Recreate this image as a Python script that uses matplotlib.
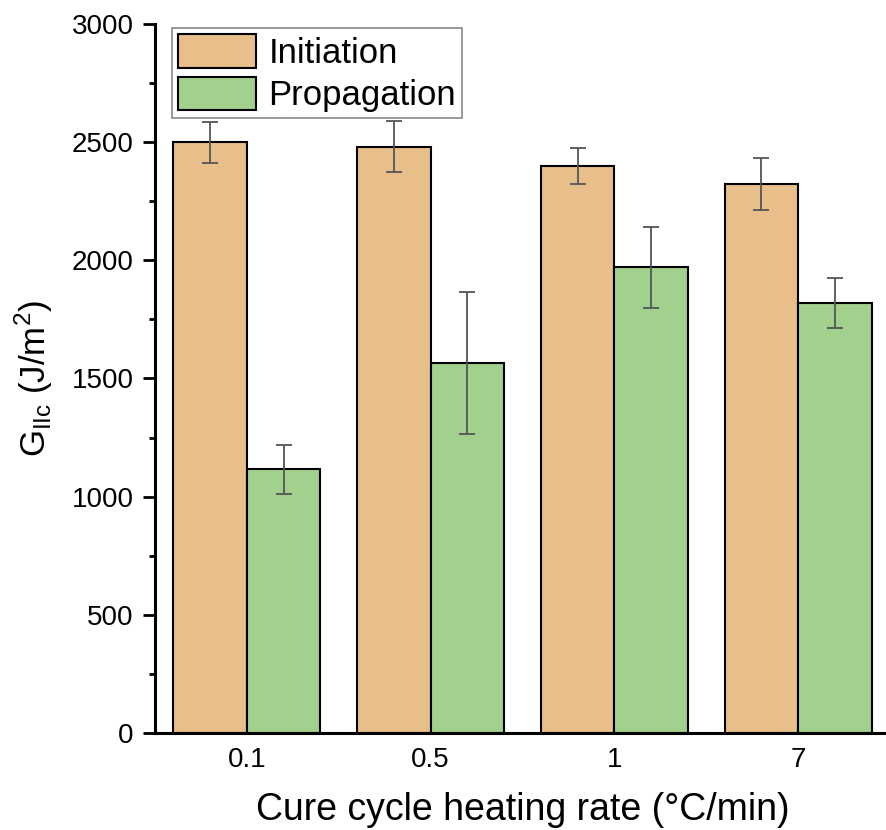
import numpy as np
import matplotlib
matplotlib.use("Agg")
import matplotlib.pyplot as plt
from matplotlib.ticker import MultipleLocator

plt.rcParams['font.family'] = ['Liberation Sans', 'DejaVu Sans']

# Datos
rates = ['0.1', '0.5', '1', '7']
initiation = [2500, 2480, 2400, 2325]
initiation_err = [87, 108, 75, 110]
propagation = [1115, 1566, 1970, 1820]
propagation_err = [103, 300, 170, 107]

c_ini = '#E8BE8A'
c_prop = '#A2D08D'

fig = plt.figure(figsize=(8.87, 8.30), dpi=100)
ax = fig.add_axes([0.1747, 0.1169, 0.8287, 0.8542])

x = np.arange(len(rates))
w = 0.4
err_kw = dict(ecolor='#555555', elinewidth=1.3, capsize=6, capthick=1.3)
ax.bar(x - w/2, initiation, w, color=c_ini, edgecolor='black', linewidth=1.5,
       yerr=initiation_err, error_kw=err_kw, label='Initiation', zorder=2)
ax.bar(x + w/2, propagation, w, color=c_prop, edgecolor='black', linewidth=1.5,
       yerr=propagation_err, error_kw=err_kw, label='Propagation', zorder=2)

ax.set_xlim(-0.5, 3.5)
ax.set_ylim(0, 3000)
ax.set_xticks(x)
ax.set_xticklabels(rates)
ax.yaxis.set_major_locator(MultipleLocator(500))
ax.yaxis.set_minor_locator(MultipleLocator(250))

for s in ['top', 'right']:
    ax.spines[s].set_visible(False)
for s in ['left', 'bottom']:
    ax.spines[s].set_linewidth(2.2)

ax.tick_params(axis='y', which='major', direction='out', length=8.5, width=2, labelsize=20, pad=7)
ax.tick_params(axis='y', which='minor', direction='out', length=4.5, width=2)
ax.tick_params(axis='x', length=0, labelsize=20, pad=10)

ax.set_xlabel('Cure cycle heating rate (°C/min)', fontsize=27, labelpad=14)
ax.set_ylabel(r'G$_{\mathregular{IIc}}$ (J/m$^{\mathregular{2}}$)', fontsize=25, labelpad=12)

leg = ax.legend(loc='upper left', bbox_to_anchor=(0.023, 0.9944), fontsize=25,
                frameon=True, fancybox=False, framealpha=1, edgecolor='#888888',
                handlelength=2.25, handleheight=1.1, handletextpad=0.35,
                labelspacing=0.2, borderpad=0.18, borderaxespad=0)
leg.get_frame().set_linewidth(1.2)
leg.set_zorder(5)

fig.savefig('out.png', dpi=100)
